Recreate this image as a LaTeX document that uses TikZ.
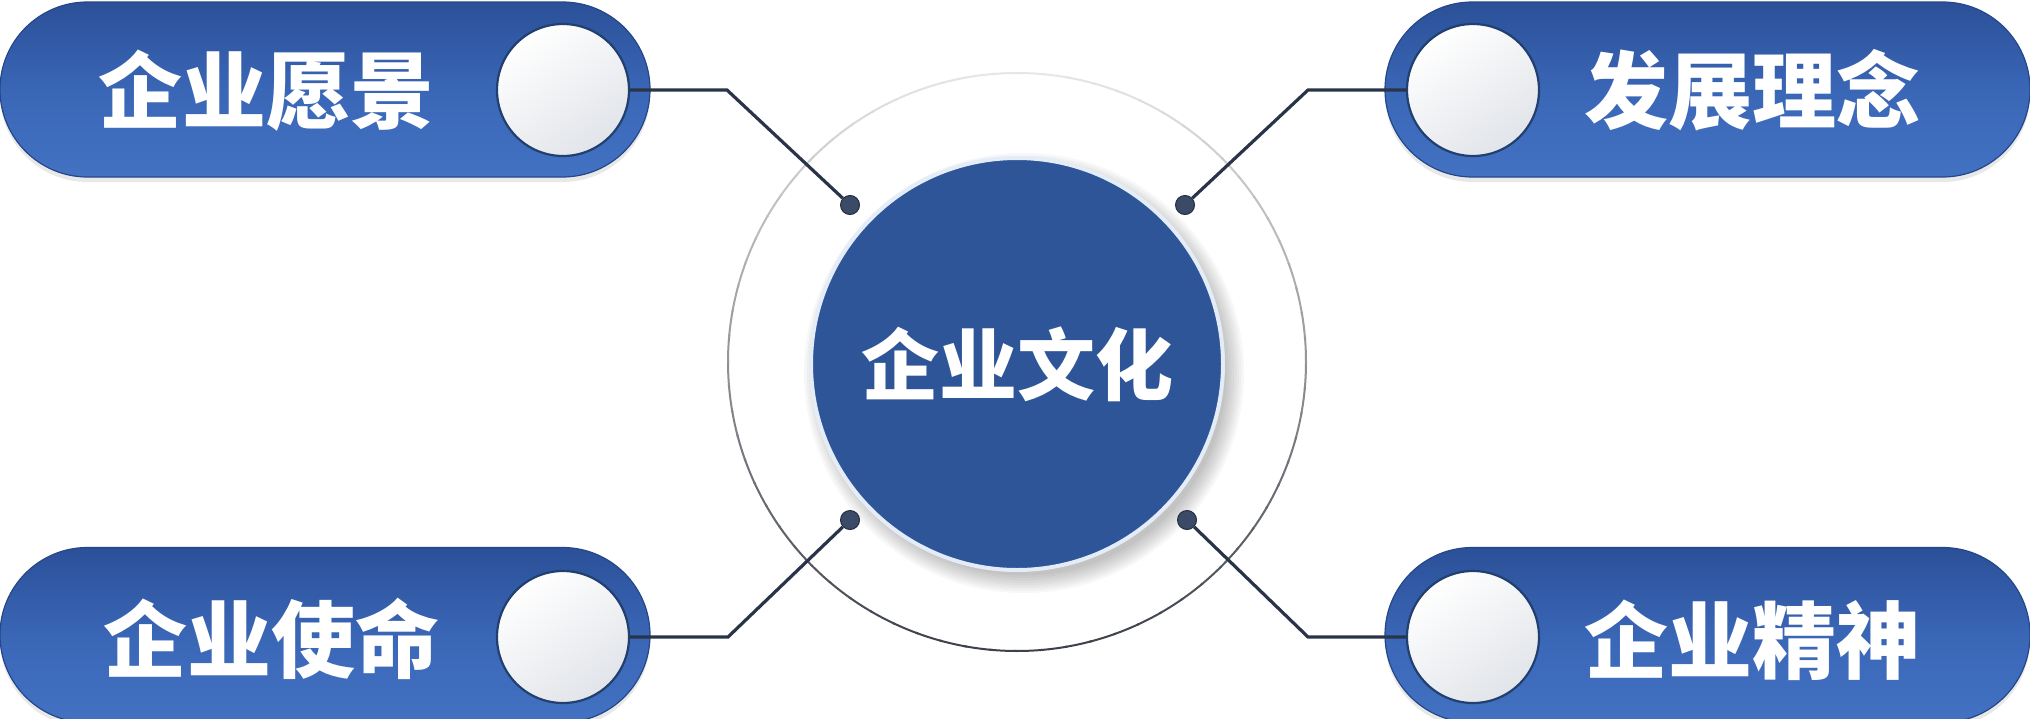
\documentclass[tikz,border=0pt]{standalone}
\usepackage{fontspec}
\newfontfamily\cjk{Noto Sans CJK SC}
\usetikzlibrary{shapes.misc,shadows}
\definecolor{pilltop}{HTML}{2B5098}
\definecolor{pillmid}{HTML}{3A66B6}
\definecolor{pillbot}{HTML}{4372C3}
\definecolor{pillrim}{HTML}{26468A}
\definecolor{coreblue}{HTML}{2E5598}
\definecolor{corerim}{HTML}{E4ECF7}
\definecolor{linecol}{HTML}{2A3449}
\definecolor{dotfill}{HTML}{3B4A66}
\definecolor{dotrim}{HTML}{232D42}
\definecolor{ringdark}{HTML}{3A3F48}
\definecolor{ringlight}{HTML}{E6E6E6}
\definecolor{wcircrim}{HTML}{22406F}
\definecolor{wcircgray}{HTML}{E1E4E9}
\begin{document}
\begin{tikzpicture}[x=1pt,y=-1pt,
  pill/.style={rounded rectangle, minimum height=175pt, inner sep=0pt,
    top color=pilltop, bottom color=pillbot, middle color=pillmid,
    draw=pillrim, line width=1.2pt,
    drop shadow={shadow xshift=0pt, shadow yshift=-5pt, opacity=0.18}},
  wcirc/.style={circle, minimum size=132pt, inner sep=0pt,
    top color=white, bottom color=wcircgray, shading angle=35,
    draw=wcircrim, line width=2.2pt},
  lab/.style={text=white, inner sep=0pt,
    font=\cjk\bfseries\fontsize{84}{84}\selectfont},
  core/.style={circle, minimum size=412pt, inner sep=0pt,
    fill=coreblue, draw=corerim, line width=4pt, text=white,
    font=\cjk\bfseries\fontsize{78}{78}\selectfont},
  dotnode/.style={circle, minimum size=19pt, inner sep=0pt,
    fill=dotfill, draw=dotrim, line width=1pt},
  conn/.style={draw=linecol, line width=3.2pt, line join=miter}
]
\useasboundingbox (0,0) rectangle (2030,718);
\fill[white] (0,0) rectangle (2030,718);

% outer ring (light at top, dark at bottom)
\coordinate (o) at (1017,362);
\foreach \a in {0,5,...,355}{
  \pgfmathtruncatemacro\m{50+50*sin(\a+2.5)}
  \draw[ringdark!\m!ringlight, line width=2pt] (o) ++(\a:289) arc[start angle=\a, end angle=\a+5.5, radius=289];
}

% soft shadow of the core circle
\foreach \k in {1,...,8}{
  \fill[black, opacity=0.03] (1024,373) circle[radius=200+\k*2.5];
}

% central circle
\node[core] (core) at (1017,364) {企业文化};

% pills
\node[pill, minimum width=650pt] (p1) at (325,89.5) {};
\node[pill, minimum width=645pt] (p2) at (1707.5,89.5) {};
\node[pill, minimum width=650pt] (p3) at (325,635) {};
\node[pill, minimum width=645pt] (p4) at (1707.5,635) {};

% white circles
\node[wcirc] (w1) at (563,90) {};
\node[wcirc] (w2) at (1473,90) {};
\node[wcirc] (w3) at (563,637) {};
\node[wcirc] (w4) at (1473,637) {};

% labels
\node[lab] (t1) at (266,91) {企业愿景};
\node[lab] (t2) at (1752,90) {发展理念};
\node[lab] (t3) at (271,639) {企业使命};
\node[lab] (t4) at (1752,640) {企业精神};

% dots
\node[dotnode] (d1) at (850,205) {};
\node[dotnode] (d2) at (1185,205) {};
\node[dotnode] (d3) at (850,520) {};
\node[dotnode] (d4) at (1187,520) {};

% bend points
\coordinate (b1) at (727,90);
\coordinate (b2) at (1308,90);
\coordinate (b3) at (728,637);
\coordinate (b4) at (1308,637);

% connectors
\draw[conn] (w1.east) -- (b1) -- (d1);
\draw[conn] (w2.west) -- (b2) -- (d2);
\draw[conn] (w3.east) -- (b3) -- (d3);
\draw[conn] (w4.west) -- (b4) -- (d4);
\end{tikzpicture}
\end{document}
